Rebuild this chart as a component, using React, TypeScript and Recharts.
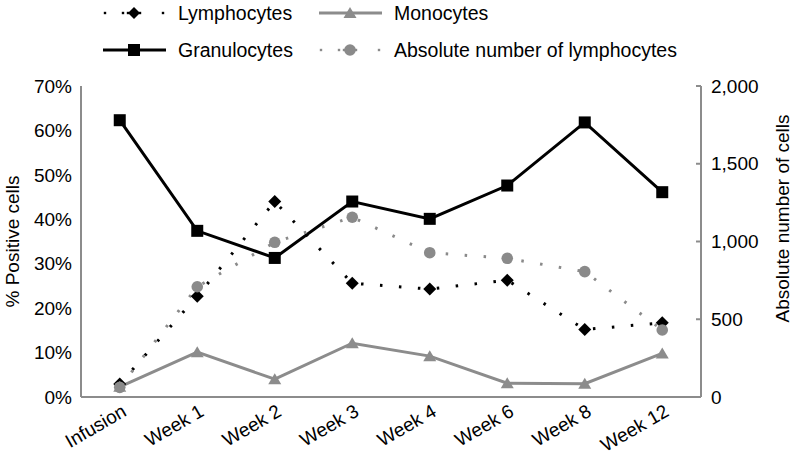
import React from 'react';
import { ComposedChart, Line, XAxis, YAxis, Legend, Label } from 'recharts';

const categories = ['Infusion', 'Week 1', 'Week 2', 'Week 3', 'Week 4', 'Week 6', 'Week 8', 'Week 12'];
const lymphocytes = [2.9, 22.7, 44.0, 25.6, 24.3, 26.3, 15.2, 16.7];
const monocytes = [2.3, 10.1, 4.0, 12.1, 9.2, 3.1, 3.0, 9.8];
const granulocytes = [62.3, 37.4, 31.3, 44.0, 40.1, 47.6, 61.8, 46.1];
const absoluteLymphocytes = [62, 709, 995, 1156, 928, 892, 806, 431];
const leftTicks = [0, 10, 20, 30, 40, 50, 60, 70];
const rightTicks = [0, 500, 1000, 1500, 2000];

const data = categories.map((name, i) => ({
  name,
  lymphocytes: lymphocytes[i],
  monocytes: monocytes[i],
  granulocytes: granulocytes[i],
  absolute: absoluteLymphocytes[i],
}));

const FONT = '"Liberation Sans", Arial, Helvetica, sans-serif';
const AXIS_GRAY = '#8c8c8c';
const MONO_GRAY = '#8c8c8c';
const ABS_GRAY = '#8a8a8a';

const Diamond = (props: any) => {
  const { cx, cy, index } = props;
  if (cx == null || cy == null) return <g key={`dm-${index}`} />;
  const r = 6.5;
  return <path key={`dm-${index}`} d={`M${cx},${cy - r}L${cx + r},${cy}L${cx},${cy + r}L${cx - r},${cy}Z`} fill="#000" />;
};
const Triangle = (props: any) => {
  const { cx, cy, index } = props;
  if (cx == null || cy == null) return <g key={`tr-${index}`} />;
  return <path key={`tr-${index}`} d={`M${cx},${cy - 6}L${cx + 6.5},${cy + 5}L${cx - 6.5},${cy + 5}Z`} fill={MONO_GRAY} />;
};
const Square = (props: any) => {
  const { cx, cy, index } = props;
  if (cx == null || cy == null) return <g key={`sq-${index}`} />;
  return <rect key={`sq-${index}`} x={cx - 6} y={cy - 6} width={12} height={12} fill="#000" />;
};
const Circle = (props: any) => {
  const { cx, cy, index } = props;
  if (cx == null || cy == null) return <g key={`ci-${index}`} />;
  return <circle key={`ci-${index}`} cx={cx} cy={cy} r={5.8} fill={ABS_GRAY} />;
};

const XTick = (props: any) => {
  const { x, y, payload } = props;
  return (
    <text
      x={0}
      y={0}
      transform={`translate(${x + 8},${y + 18}) rotate(-30)`}
      textAnchor="end"
      fontSize={19}
      fontFamily={FONT}
      fill="#000"
    >
      {payload.value}
    </text>
  );
};

const LeftTick = (props: any) => {
  const { x, y, payload } = props;
  return (
    <text x={x - 9} y={y} dy="0.35em" textAnchor="end" fontSize={19} fontFamily={FONT} fill="#000">
      {`${payload.value}%`}
    </text>
  );
};

const RightTick = (props: any) => {
  const { x, y, payload } = props;
  return (
    <g>
      <line x1={x - 5} y1={y} x2={x} y2={y} stroke={AXIS_GRAY} strokeWidth={2} />
      <text x={x + 10} y={y} dy="0.35em" textAnchor="start" fontSize={19} fontFamily={FONT} fill="#000">
        {Number(payload.value).toLocaleString('en-US')}
      </text>
    </g>
  );
};

const LeftLabel = (props: any) => {
  const { viewBox } = props;
  const cx = 12;
  const cy = viewBox.y + viewBox.height / 2;
  return (
    <text x={cx} y={cy} dy="0.35em" transform={`rotate(-90, ${cx}, ${cy})`} textAnchor="middle" fontSize={19} fontFamily={FONT} fill="#000">
      % Positive cells
    </text>
  );
};

const RightLabel = (props: any) => {
  const { viewBox } = props;
  const cx = viewBox.x + 81;
  const cy = viewBox.y + viewBox.height / 2 - 23;
  return (
    <text x={cx} y={cy} dy="0.35em" transform={`rotate(-90, ${cx}, ${cy})`} textAnchor="middle" fontSize={19} fontFamily={FONT} fill="#000">
      Absolute number of cells
    </text>
  );
};

const legendItems = [
  { name: 'Lymphocytes', kind: 'lymph' },
  { name: 'Monocytes', kind: 'mono' },
  { name: 'Granulocytes', kind: 'gran' },
  { name: 'Absolute number of lymphocytes', kind: 'abs' },
];

const LegendIcon = ({ kind }: { kind: string }) => {
  const w = 66;
  const h = 20;
  const c = 32;
  const m = 10;
  if (kind === 'gran') {
    return (
      <svg width={w} height={h}>
        <line x1={1} y1={m} x2={64} y2={m} stroke="#000" strokeWidth={3} />
        <rect x={c - 6} y={m - 6} width={12} height={12} fill="#000" />
      </svg>
    );
  }
  if (kind === 'mono') {
    return (
      <svg width={w} height={h}>
        <line x1={1} y1={m} x2={64} y2={m} stroke={MONO_GRAY} strokeWidth={3} />
        <path d={`M${c},${m - 6}L${c + 6.5},${m + 5}L${c - 6.5},${m + 5}Z`} fill={MONO_GRAY} />
      </svg>
    );
  }
  const color = kind === 'lymph' ? '#000' : ABS_GRAY;
  const dots = [3, 21, 26, 38, 61];
  return (
    <svg width={w} height={h}>
      {dots.map((d) => (
        <rect key={d} x={d - 1.2} y={m - 1.2} width={2.4} height={2.4} fill={color} />
      ))}
      {kind === 'lymph' ? (
        <path d={`M${c},${m - 6}L${c + 6},${m}L${c},${m + 6}L${c - 6},${m}Z`} fill="#000" />
      ) : (
        <circle cx={c} cy={m} r={5.8} fill={ABS_GRAY} />
      )}
    </svg>
  );
};

const renderLegend = () => {
  const pos = [
    { left: 102, top: 3 },
    { left: 318, top: 3 },
    { left: 102, top: 40 },
    { left: 318, top: 40 },
  ];
  return (
    <div style={{ position: 'relative', width: 796, height: 70, fontFamily: FONT }}>
      {legendItems.map((it, i) => (
        <div
          key={it.name}
          style={{
            position: 'absolute',
            left: pos[i].left,
            top: pos[i].top,
            display: 'flex',
            alignItems: 'center',
            whiteSpace: 'nowrap',
          }}
        >
          <LegendIcon kind={it.kind} />
          <span style={{ marginLeft: 10, fontSize: 19.5, color: '#000', lineHeight: '20px' }}>{it.name}</span>
        </div>
      ))}
    </div>
  );
};

export default function App() {
  return (
    <div style={{ position: 'absolute', left: 0, top: 0, width: 796, height: 461, background: '#fff' }}>
      <ComposedChart width={796} height={461} data={data} margin={{ top: 16, right: 0, bottom: 0, left: 0 }}>
        <Legend
          verticalAlign="top"
          content={renderLegend}
          wrapperStyle={{ top: 0, left: 0, width: 796, height: 70 }}
        />
        <XAxis
          dataKey="name"
          scale="band"
          interval={0}
          tickLine={false}
          tickSize={0}
          tickMargin={0}
          height={64}
          tick={<XTick />}
          axisLine={{ stroke: AXIS_GRAY, strokeWidth: 2 }}
        />
        <YAxis
          yAxisId="left"
          orientation="left"
          width={81}
          domain={[0, 70]}
          ticks={leftTicks}
          tickLine={false}
          tickSize={0}
          tickMargin={0}
          tick={<LeftTick />}
          axisLine={{ stroke: AXIS_GRAY, strokeWidth: 2 }}
        >
          <Label content={<LeftLabel />} />
        </YAxis>
        <YAxis
          yAxisId="right"
          orientation="right"
          width={95}
          domain={[0, 2000]}
          ticks={rightTicks}
          tickLine={false}
          tickSize={0}
          tickMargin={0}
          tick={<RightTick />}
          axisLine={{ stroke: AXIS_GRAY, strokeWidth: 2 }}
        >
          <Label content={<RightLabel />} />
        </YAxis>
        <Line
          yAxisId="left"
          dataKey="lymphocytes"
          name="Lymphocytes"
          stroke="#000"
          strokeWidth={3}
          strokeDasharray="2.5 16.5"
          dot={Diamond}
          activeDot={false}
          isAnimationActive={false}
        />
        <Line
          yAxisId="left"
          dataKey="monocytes"
          name="Monocytes"
          stroke={MONO_GRAY}
          strokeWidth={3}
          dot={Triangle}
          activeDot={false}
          isAnimationActive={false}
        />
        <Line
          yAxisId="left"
          dataKey="granulocytes"
          name="Granulocytes"
          stroke="#000"
          strokeWidth={3}
          dot={Square}
          activeDot={false}
          isAnimationActive={false}
        />
        <Line
          yAxisId="right"
          dataKey="absolute"
          name="Absolute number of lymphocytes"
          stroke={ABS_GRAY}
          strokeWidth={3}
          strokeDasharray="2.5 16.5"
          dot={Circle}
          activeDot={false}
          isAnimationActive={false}
        />
      </ComposedChart>
    </div>
  );
}
